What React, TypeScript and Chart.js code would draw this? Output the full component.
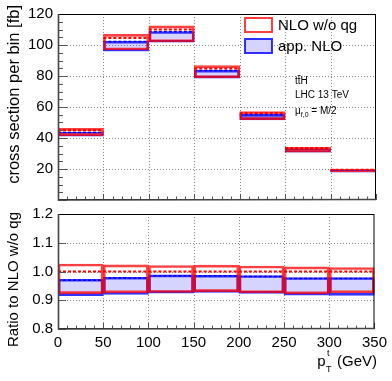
import { useEffect, useRef } from "react";
import { Chart, registerables } from "chart.js";

Chart.register(...registerables);

const FONT = '"Liberation Sans", Arial, sans-serif';
Chart.defaults.font.family = FONT;

// ---------- data ----------
const binEdges = [0, 50, 100, 150, 200, 250, 300, 350];
const binCenters = [25, 75, 125, 175, 225, 275, 325];

// top panel: cross section per bin [fb]
const nloCentral = [45.0, 104.5, 110.0, 84.8, 56.0, 33.5, 19.5];
const nloUp = [46.2, 106.9, 112.3, 86.7, 57.1, 34.0, 19.8];
const nloDown = [41.5, 96.8, 102.0, 78.9, 51.9, 30.9, 18.1];
const appCentral = [43.6, 102.2, 108.5, 83.5, 55.0, 32.7, 19.0];
const appUp = [43.8, 102.4, 108.7, 83.7, 55.2, 32.8, 19.1];
const appDown = [41.2, 96.0, 101.8, 78.6, 51.7, 30.8, 17.9];

// bottom panel: ratio to NLO w/o qg
const ratioNloCentral = [1.0, 1.0, 1.0, 1.0, 1.0, 1.0, 1.0];
const ratioNloUp = [1.026, 1.023, 1.021, 1.022, 1.019, 1.016, 1.014];
const ratioNloDown = [0.923, 0.926, 0.927, 0.93, 0.926, 0.922, 0.926];
const ratioAppCentral = [0.97, 0.977, 0.985, 0.984, 0.983, 0.976, 0.976];
const ratioAppUp = [0.973, 0.98, 0.988, 0.987, 0.986, 0.979, 0.979];
const ratioAppDown = [0.916, 0.92, 0.925, 0.927, 0.924, 0.918, 0.917];

// axes
const xMin = 0, xMax = 350, xStep = 50, xMinor = 10;
const topYMin = 0, topYMax = 120, topYStep = 20, topYMinor = 5;
const ratioYMin = 0.8, ratioYMax = 1.2, ratioYStep = 0.1;

const legendLabels = ["NLO w/o qg", "app. NLO"];
const yTitleTop = "cross section per bin [fb]";
const yTitleBottom = "Ratio to NLO w/o qg";

const RED_LINE = "rgba(255,0,0,0.75)";
const BLUE_LINE = "rgba(0,0,255,0.8)";
const BLUE_FILL = "rgba(40,40,255,0.2)";

function bars(lo: number[], hi: number[]) {
  return binCenters.map((x, i) => ({ x, y: [lo[i], hi[i]] }));
}
function segs(vals: number[]) {
  const pts: { x: number; y: number | null }[] = [];
  vals.forEach((v, i) => {
    pts.push({ x: binEdges[i], y: v }, { x: binEdges[i + 1], y: v }, { x: binEdges[i + 1], y: null });
  });
  return pts;
}

function datasets(nc: number[], nu: number[], nd: number[], ac: number[], au: number[], ad: number[]) {
  return [
    { type: "line", data: segs(nc), borderColor: "#ff0000", borderWidth: 2, borderDash: [3, 2], pointRadius: 0, spanGaps: false, fill: false, order: 0 },
    { type: "bar", data: bars(nd, nu), backgroundColor: "rgba(0,0,0,0)", borderColor: RED_LINE, borderWidth: 2, borderSkipped: false, grouped: false, barPercentage: 1, categoryPercentage: 1, order: 1 },
    { type: "line", data: segs(ac), borderColor: "#0000ff", borderWidth: 1.5, borderDash: [3, 2], pointRadius: 0, spanGaps: false, fill: false, order: 2 },
    { type: "bar", data: bars(ad, au), backgroundColor: BLUE_FILL, borderColor: BLUE_LINE, borderWidth: 2, borderSkipped: false, grouped: false, barPercentage: 1, categoryPercentage: 1, order: 3 },
  ];
}

function gridPlugin(yGrid: number[]) {
  return {
    id: "gridlines",
    beforeDatasetsDraw(chart: any) {
      const { ctx, chartArea: a, scales } = chart;
      ctx.save();
      ctx.strokeStyle = "#8a8a8a";
      ctx.lineWidth = 1;
      ctx.setLineDash([1, 2]);
      for (let v = xMin + xStep; v < xMax; v += xStep) {
        const px = Math.round(scales.x.getPixelForValue(v)) + 0.5;
        ctx.beginPath(); ctx.moveTo(px, a.top); ctx.lineTo(px, a.bottom); ctx.stroke();
      }
      yGrid.forEach((v) => {
        const py = Math.round(scales.y.getPixelForValue(v)) + 0.5;
        ctx.beginPath(); ctx.moveTo(a.left, py); ctx.lineTo(a.right, py); ctx.stroke();
      });
      ctx.restore();
    },
  };
}

function framePlugin(yMajors: number[], yMinors: number[], yMajorLen: number, yMinorLen: number) {
  return {
    id: "frame",
    afterDraw(chart: any) {
      const { ctx, chartArea: a, scales } = chart;
      ctx.save();
      ctx.setLineDash([]);
      ctx.strokeStyle = "#555";
      ctx.lineWidth = 1;
      yMinors.forEach((v) => {
        const py = Math.round(scales.y.getPixelForValue(v)) + 0.5;
        ctx.beginPath(); ctx.moveTo(a.left, py); ctx.lineTo(a.left + yMinorLen, py); ctx.stroke();
      });
      yMajors.forEach((v) => {
        const py = Math.round(scales.y.getPixelForValue(v)) + 0.5;
        ctx.beginPath(); ctx.moveTo(a.left, py); ctx.lineTo(a.left + yMajorLen, py); ctx.stroke();
      });
      for (let v = xMin; v <= xMax; v += xMinor) {
        const px = Math.round(scales.x.getPixelForValue(v)) + 0.5;
        const len = v % xStep === 0 ? 6 : 3.5;
        ctx.beginPath(); ctx.moveTo(px, a.bottom); ctx.lineTo(px, a.bottom - len); ctx.stroke();
      }
      ctx.strokeStyle = "#000";
      ctx.lineWidth = 1;
      ctx.strokeRect(a.left + 0.5, a.top + 0.5, a.right - a.left - 1, a.bottom - a.top - 1);
      ctx.strokeStyle = "#444";
      ctx.lineWidth = 1.6;
      ctx.beginPath();
      ctx.moveTo(a.left + 0.5, a.top); ctx.lineTo(a.left + 0.5, a.bottom); ctx.lineTo(a.right, a.bottom - 0.5);
      ctx.stroke();
      ctx.restore();
    },
  };
}

function topTextPlugin() {
  return {
    id: "topText",
    afterDraw(chart: any) {
      const { ctx } = chart;
      ctx.save();
      ctx.translate(14, 5);
      ctx.rotate(-Math.PI / 2);
      ctx.font = `16.5px ${FONT}`;
      ctx.fillStyle = "#000";
      ctx.textAlign = "right";
      ctx.textBaseline = "middle";
      ctx.fillText(yTitleTop, 0, 0);
      ctx.restore();

      ctx.save();
      ctx.lineWidth = 2;
      ctx.fillStyle = "#fff";
      ctx.fillRect(245, 18, 27, 14);
      ctx.strokeStyle = RED_LINE;
      ctx.strokeRect(245, 18, 27, 14);
      ctx.fillStyle = "#fff";
      ctx.fillRect(245, 39, 27, 14);
      ctx.fillStyle = BLUE_FILL;
      ctx.fillRect(245, 39, 27, 14);
      ctx.strokeStyle = BLUE_LINE;
      ctx.strokeRect(245, 39, 27, 14);
      ctx.fillStyle = "#000";
      ctx.font = `15px ${FONT}`;
      ctx.textAlign = "left";
      ctx.textBaseline = "middle";
      ctx.fillText(legendLabels[0], 278, 25.5);
      ctx.fillText(legendLabels[1], 278, 46.5);

      ctx.font = `10px ${FONT}`;
      ctx.textBaseline = "alphabetic";
      const x0 = 295;
      const wt = ctx.measureText("t").width;
      ctx.fillText("t", x0, 84);
      ctx.fillText("t", x0 + wt, 84);
      ctx.fillText("H", x0 + 2 * wt, 84);
      ctx.lineWidth = 0.8;
      ctx.strokeStyle = "#000";
      ctx.beginPath(); ctx.moveTo(x0 + wt, 75.5); ctx.lineTo(x0 + 2 * wt, 75.5); ctx.stroke();
      ctx.fillText("LHC 13 TeV", x0, 98);
      ctx.fillText("\u03bc", x0, 114);
      const wm = ctx.measureText("\u03bc").width;
      ctx.font = `7px ${FONT}`;
      ctx.fillText("f,0", x0 + wm, 117);
      const ws = ctx.measureText("f,0").width;
      ctx.font = `10px ${FONT}`;
      ctx.fillText(" = M/2", x0 + wm + ws, 114);
      ctx.restore();
    },
  };
}

function bottomTextPlugin() {
  return {
    id: "bottomText",
    afterDraw(chart: any) {
      const { ctx } = chart;
      ctx.save();
      ctx.translate(14, 12);
      ctx.rotate(-Math.PI / 2);
      ctx.font = `15px ${FONT}`;
      ctx.fillStyle = "#000";
      ctx.textAlign = "right";
      ctx.textBaseline = "middle";
      ctx.fillText(yTitleBottom, 0, 0);
      ctx.restore();

      ctx.save();
      ctx.fillStyle = "#000";
      ctx.font = `15px ${FONT}`;
      ctx.textBaseline = "alphabetic";
      ctx.textAlign = "right";
      const right = 377;
      ctx.fillText("(GeV)", right, 166);
      const wg = ctx.measureText("(GeV)").width;
      const xs = right - wg - 4 - 7;
      ctx.font = `9px ${FONT}`;
      ctx.textAlign = "left";
      ctx.fillText("t", xs + 1, 156);
      ctx.fillText("T", xs, 172);
      ctx.font = `15px ${FONT}`;
      ctx.textAlign = "right";
      ctx.fillText("p", xs - 0.5, 166);
      ctx.restore();
    },
  };
}

function range(a: number, b: number, s: number) {
  const out: number[] = [];
  for (let v = a; v <= b + 1e-9; v += s) out.push(Math.round(v * 1000) / 1000);
  return out;
}

export default function App() {
  const topRef = useRef<HTMLCanvasElement>(null);
  const botRef = useRef<HTMLCanvasElement>(null);

  useEffect(() => {
    const xScale = (showLabels: boolean, height: number) => ({
      type: "linear",
      min: xMin,
      max: xMax,
      offset: false,
      grid: { display: false, drawTicks: false },
      border: { display: false },
      ticks: { display: showLabels, stepSize: xStep, color: "#000", padding: 5, font: { size: 15, family: FONT }, maxRotation: 0, autoSkip: false },
      afterFit: (s: any) => { s.height = height; },
    });

    const topYMajors = range(topYMin, topYMax, topYStep);
    const topYMinors = range(topYMin, topYMax, topYMinor);
    const top = new Chart(topRef.current!, {
      type: "bar",
      data: { datasets: datasets(nloCentral, nloUp, nloDown, appCentral, appUp, appDown) as any },
      options: {
        responsive: false,
        animation: false,
        devicePixelRatio: 1,
        events: [],
        layout: { padding: { left: 0, right: 16, top: 10, bottom: 10 } },
        plugins: { legend: { display: false }, tooltip: { enabled: false } },
        scales: {
          x: xScale(false, 0) as any,
          y: {
            type: "linear",
            min: topYMin,
            max: topYMax,
            grid: { display: false, drawTicks: false },
            border: { display: false },
            ticks: { stepSize: topYStep, color: "#000", padding: 5, font: { size: 15, family: FONT }, callback: (v: any) => (Number(v) === 0 ? "" : String(v)) },
            afterFit: (s: any) => { s.width = 58; },
          },
        },
      },
      plugins: [gridPlugin(topYMajors.slice(1, -1)), framePlugin(topYMajors, topYMinors, 9, 5), topTextPlugin()],
    });

    const ratioMajors = range(ratioYMin, ratioYMax, ratioYStep);
    const bot = new Chart(botRef.current!, {
      type: "bar",
      data: { datasets: datasets(ratioNloCentral, ratioNloUp, ratioNloDown, ratioAppCentral, ratioAppUp, ratioAppDown) as any },
      options: {
        responsive: false,
        animation: false,
        devicePixelRatio: 1,
        events: [],
        layout: { padding: { left: 0, right: 16, top: 14, bottom: 0 } },
        plugins: { legend: { display: false }, tooltip: { enabled: false } },
        scales: {
          x: xScale(true, 52) as any,
          y: {
            type: "linear",
            min: ratioYMin,
            max: ratioYMax,
            grid: { display: false, drawTicks: false },
            border: { display: false },
            ticks: { stepSize: ratioYStep, color: "#000", padding: 5, font: { size: 15, family: FONT }, callback: (v: any) => Number(v).toFixed(1) },
            afterFit: (s: any) => { s.width = 58; },
          },
        },
      },
      plugins: [gridPlugin(ratioMajors.slice(1, -1)), framePlugin(ratioMajors, [], 8, 4), bottomTextPlugin()],
    });

    return () => {
      top.destroy();
      bot.destroy();
    };
  }, []);

  return (
    <div style={{ position: "fixed", left: 0, top: 0, width: 392, height: 381, background: "#fff" }}>
      <canvas ref={topRef} width={392} height={214} style={{ position: "absolute", left: 0, top: 0, width: 392, height: 214 }} />
      <canvas ref={botRef} width={392} height={181} style={{ position: "absolute", left: 0, top: 200, width: 392, height: 181 }} />
    </div>
  );
}
